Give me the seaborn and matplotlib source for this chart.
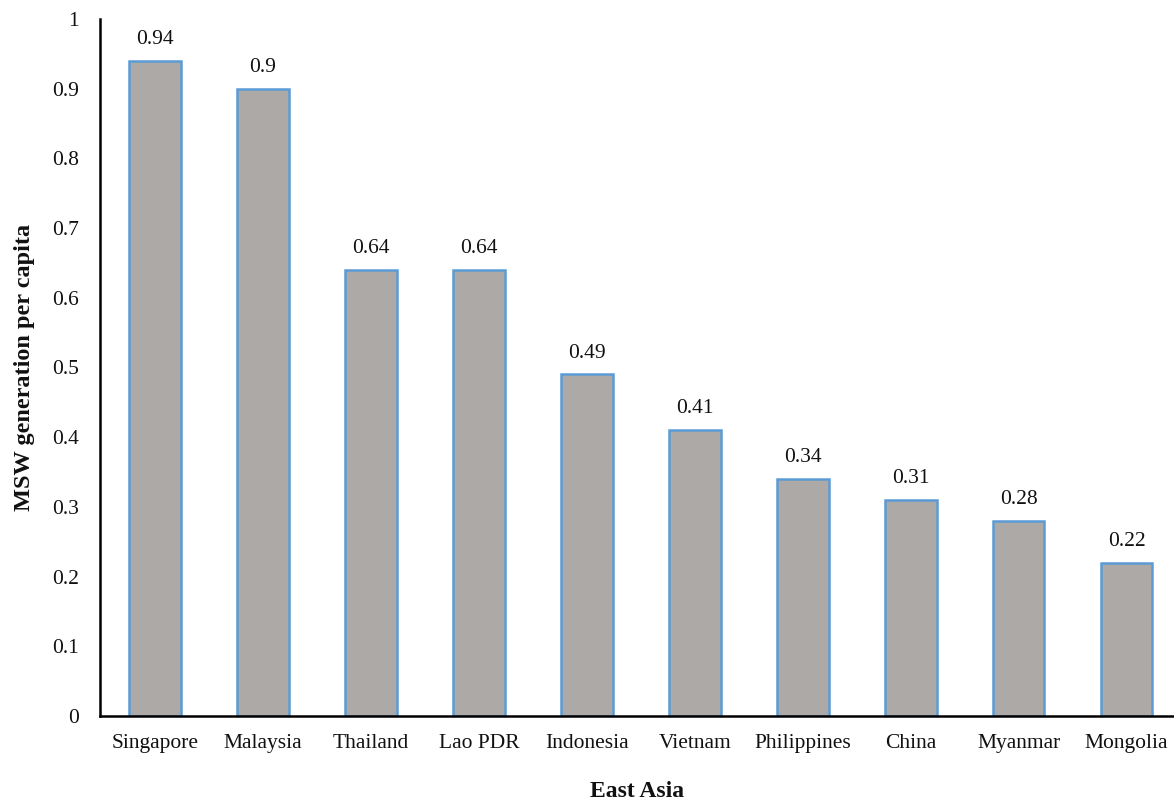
import matplotlib
matplotlib.use("Agg")
import matplotlib.pyplot as plt
import seaborn as sns
import pandas as pd

countries = ["Singapore", "Malaysia", "Thailand", "Lao PDR", "Indonesia",
             "Vietnam", "Philippines", "China", "Myanmar", "Mongolia"]
msw_per_capita = [0.94, 0.90, 0.64, 0.64, 0.49, 0.41, 0.34, 0.31, 0.28, 0.22]
value_labels = ["0.94", "0.9", "0.64", "0.64", "0.49", "0.41", "0.34", "0.31", "0.28", "0.22"]
y_ticks = [0, 0.1, 0.2, 0.3, 0.4, 0.5, 0.6, 0.7, 0.8, 0.9, 1]
y_tick_labels = ["0", "0.1", "0.2", "0.3", "0.4", "0.5", "0.6", "0.7", "0.8", "0.9", "1"]

df = pd.DataFrame({"country": countries, "msw": msw_per_capita})

sns.set_theme(style="white")
plt.rcParams["font.family"] = ["Liberation Serif", "DejaVu Serif"]

fig = plt.figure(figsize=(11.74, 8.06), dpi=100)
ax = fig.add_axes([100 / 1174, 90 / 806, 1074 / 1174, 697 / 806])

sns.barplot(data=df, x="country", y="msw", ax=ax, color="#ADA9A7",
            edgecolor="#5B9BD5", linewidth=1.8, width=0.48, saturation=1)

for i, (v, lab) in enumerate(zip(msw_per_capita, value_labels)):
    ax.text(i, v + 0.017, lab, ha="center", va="bottom", fontsize=15.5, color="#111111")

ax.set_ylim(0, 1)
ax.set_xlim(-0.51, 9.44)
ax.set_yticks(y_ticks)
ax.set_yticklabels(y_tick_labels, fontsize=15.5)
ax.set_xticks(range(len(countries)))
ax.set_xticklabels(countries, fontsize=15.5)
ax.tick_params(axis="y", direction="out", length=6, width=1.5, color="black", pad=9,
               labelcolor="#111111")
ax.tick_params(axis="x", length=0, pad=13, labelcolor="#111111")

for side in ["top", "right"]:
    ax.spines[side].set_visible(False)
for side in ["left", "bottom"]:
    ax.spines[side].set_color("black")
    ax.spines[side].set_linewidth(1.8)

ax.set_xlabel("East Asia", fontsize=17, fontweight="bold", labelpad=20, color="#111111")
ax.set_ylabel("MSW generation per capita", fontsize=17.5, fontweight="bold", labelpad=12,
              color="#111111")

fig.savefig("out.png", dpi=100)
